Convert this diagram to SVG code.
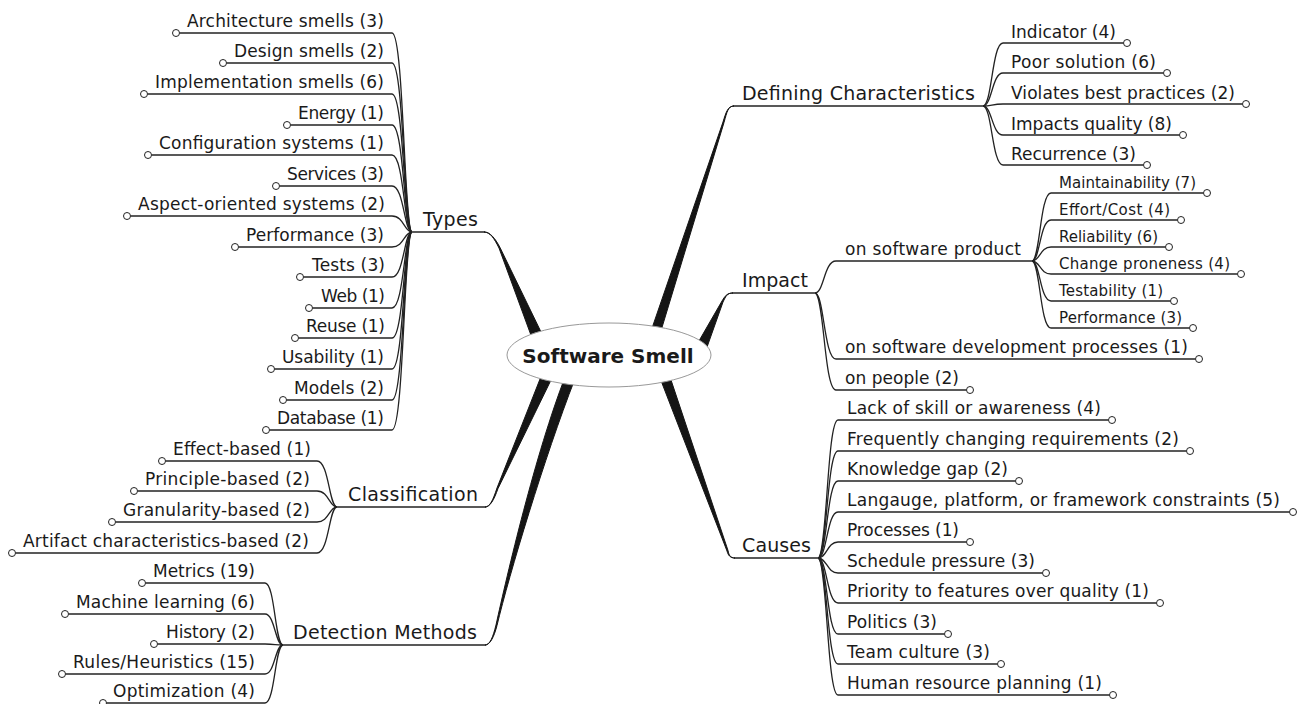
<svg xmlns="http://www.w3.org/2000/svg" width="1299" height="704" viewBox="0 0 1299 704">
<style>
.ln{fill:none;stroke:#222;stroke-width:1.3}
.ul{fill:none;stroke:#222;stroke-width:1.3}
.dot{fill:#fff;stroke:#222;stroke-width:1}
.br{fill:#151515;stroke:#151515;stroke-width:1;stroke-linejoin:round}
text{font-family:"DejaVu Sans","Liberation Sans",sans-serif;fill:#1a1a1a}
.t{font-size:17px}
.s{font-size:15px}
.m{font-size:19px}
.l{text-anchor:end}
.c{font-size:20px;font-weight:bold;text-anchor:middle}
</style>
<rect width="1299" height="704" fill="#fff"/>
<g id="connectors">
<!-- tapered main branches -->
<path class="br" d="M484,232 C490,232 494,238 499,248 L532,338 L542,334 L500,247.5 C495,238 490,232 484,232 Z"/>
<path class="br" d="M734,106 C728,106 726,112 723,122 L650,334 L660,334 L724,122.5 C727,112 728,106 734,106 Z"/>
<path class="br" d="M733,293 C727,293 725,296 722,301 L697.5,343.5 L706.5,348.5 L723,302 C726,296 727,293 733,293 Z"/>
<path class="br" d="M735,558 C730,558 728,555 727,551 L660,378 L669,374 L728,550.5 C729,555 730,558 735,558 Z"/>
<path class="br" d="M485,507 C490,507 493,500 497,488 L542,374 L552,378 L498,488.5 C494,500 490,507 485,507 Z"/>
<path class="br" d="M485,645 C490,645 493,637 496,625 C507,575 535.4,453.2 565.4,376.2 L574.6,379.8 C544.6,456.8 509,575 497,625.5 C494,637 490,645 485,645 Z"/>
<!-- Types children -->
<path class="ln" d="M412,232 C404,232 404,33 392,33"/>
<path class="ln" d="M412,232 C404,232 404,63 392,63"/>
<path class="ln" d="M412,232 C404,232 404,94 392,94"/>
<path class="ln" d="M412,232 C404,232 404,125 392,125"/>
<path class="ln" d="M412,232 C404,232 404,155 392,155"/>
<path class="ln" d="M412,232 C404,232 404,186 392,186"/>
<path class="ln" d="M412,232 C404,232 404,216 392,216"/>
<path class="ln" d="M412,232 C404,232 404,247 392,247"/>
<path class="ln" d="M412,232 C404,232 404,277 392,277"/>
<path class="ln" d="M412,232 C404,232 404,308 392,308"/>
<path class="ln" d="M412,232 C404,232 404,338 392,338"/>
<path class="ln" d="M412,232 C404,232 404,369 392,369"/>
<path class="ln" d="M412,232 C404,232 404,400 392,400"/>
<path class="ln" d="M412,232 C404,232 404,430 392,430"/>
<!-- Classification children -->
<path class="ln" d="M337,507 C329,507 329,461 317,461"/>
<path class="ln" d="M337,507 C329,507 329,491 317,491"/>
<path class="ln" d="M337,507 C329,507 329,522 317,522"/>
<path class="ln" d="M337,507 C329,507 329,553 317,553"/>
<!-- Detection children -->
<path class="ln" d="M283,645 C275,645 275,583 265,583"/>
<path class="ln" d="M283,645 C275,645 275,614 265,614"/>
<path class="ln" d="M283,645 C275,645 275,644 265,644"/>
<path class="ln" d="M283,645 C275,645 275,674 265,674"/>
<path class="ln" d="M283,645 C275,645 275,703 265,703"/>
<!-- Defining Characteristics children -->
<path class="ln" d="M983,106 C992,106 992,43 1003,43"/>
<path class="ln" d="M983,106 C992,106 992,73 1003,73"/>
<path class="ln" d="M983,106 C992,106 992,104 1003,104"/>
<path class="ln" d="M983,106 C992,106 992,135 1003,135"/>
<path class="ln" d="M983,106 C992,106 992,165 1003,165"/>
<!-- Impact children -->
<path class="ln" d="M815,293 C824,293 824,261 836,261"/>
<path class="ln" d="M815,293 C824,293 824,359 836,359"/>
<path class="ln" d="M815,293 C824,293 824,390 836,390"/>
<!-- on software product children -->
<path class="ln" d="M1032,261 C1040,261 1040,193 1051,193"/>
<path class="ln" d="M1032,261 C1040,261 1040,220 1051,220"/>
<path class="ln" d="M1032,261 C1040,261 1040,247 1051,247"/>
<path class="ln" d="M1032,261 C1040,261 1040,274 1051,274"/>
<path class="ln" d="M1032,261 C1040,261 1040,301 1051,301"/>
<path class="ln" d="M1032,261 C1040,261 1040,328 1051,328"/>
<!-- Causes children -->
<path class="ln" d="M818,558 C827,558 827,420 838,420"/>
<path class="ln" d="M818,558 C827,558 827,451 838,451"/>
<path class="ln" d="M818,558 C827,558 827,481 838,481"/>
<path class="ln" d="M818,558 C827,558 827,512 838,512"/>
<path class="ln" d="M818,558 C827,558 827,542 838,542"/>
<path class="ln" d="M818,558 C827,558 827,573 838,573"/>
<path class="ln" d="M818,558 C827,558 827,603 838,603"/>
<path class="ln" d="M818,558 C827,558 827,634 838,634"/>
<path class="ln" d="M818,558 C827,558 827,664 838,664"/>
<path class="ln" d="M818,558 C827,558 827,695 838,695"/>
</g>

<g id="root">
<ellipse cx="609" cy="355" rx="102" ry="32" fill="#fff" stroke="#999" stroke-width="1"/>
<text class="c" x="608" y="363">Software Smell</text>
</g>

<!-- main topics -->
<g id="types"><path class="ul" d="M412,232 H485"/><text class="m" x="423" y="226" textLength="55">Types</text></g>
<g id="classification"><path class="ul" d="M337,507 H486"/><text class="m" x="348" y="501" textLength="130">Classification</text></g>
<g id="detection"><path class="ul" d="M283,645 H486"/><text class="m" x="293" y="639" textLength="184">Detection Methods</text></g>
<g id="defining"><path class="ul" d="M733,106 H983"/><text class="m" x="742" y="100" textLength="233">Defining Characteristics</text></g>
<g id="impact"><path class="ul" d="M732,293 H815"/><text class="m" x="742" y="287" textLength="66">Impact</text></g>
<g id="causes"><path class="ul" d="M734,558 H818"/><text class="m" x="742" y="552" textLength="69">Causes</text></g>

<!-- Types children -->
<g id="t1"><path class="ul" d="M179.5,33 H392"/><circle class="dot" cx="176" cy="33" r="3.5"/><text class="t l" x="384" y="27" textLength="197">Architecture smells (3)</text></g>
<g id="t2"><path class="ul" d="M226.5,63 H392"/><circle class="dot" cx="223" cy="63" r="3.5"/><text class="t l" x="384" y="57" textLength="150">Design smells (2)</text></g>
<g id="t3"><path class="ul" d="M147.5,94 H392"/><circle class="dot" cx="144" cy="94" r="3.5"/><text class="t l" x="384" y="88" textLength="229">Implementation smells (6)</text></g>
<g id="t4"><path class="ul" d="M290.5,125 H392"/><circle class="dot" cx="287" cy="125" r="3.5"/><text class="t l" x="384" y="119" textLength="86">Energy (1)</text></g>
<g id="t5"><path class="ul" d="M151.5,155 H392"/><circle class="dot" cx="148" cy="155" r="3.5"/><text class="t l" x="384" y="149" textLength="225">Configuration systems (1)</text></g>
<g id="t6"><path class="ul" d="M279.5,186 H392"/><circle class="dot" cx="276" cy="186" r="3.5"/><text class="t l" x="384" y="180" textLength="97">Services (3)</text></g>
<g id="t7"><path class="ul" d="M130.5,216 H392"/><circle class="dot" cx="127" cy="216" r="3.5"/><text class="t l" x="385" y="210" textLength="247">Aspect-oriented systems (2)</text></g>
<g id="t8"><path class="ul" d="M238.5,247 H392"/><circle class="dot" cx="235" cy="247" r="3.5"/><text class="t l" x="384" y="241" textLength="138">Performance (3)</text></g>
<g id="t9"><path class="ul" d="M303.5,277 H392"/><circle class="dot" cx="300" cy="277" r="3.5"/><text class="t l" x="385" y="271" textLength="73">Tests (3)</text></g>
<g id="t10"><path class="ul" d="M312.5,308 H392"/><circle class="dot" cx="309" cy="308" r="3.5"/><text class="t l" x="385" y="302" textLength="64">Web (1)</text></g>
<g id="t11"><path class="ul" d="M298.5,338 H392"/><circle class="dot" cx="295" cy="338" r="3.5"/><text class="t l" x="385" y="332" textLength="79">Reuse (1)</text></g>
<g id="t12"><path class="ul" d="M274.5,369 H392"/><circle class="dot" cx="271" cy="369" r="3.5"/><text class="t l" x="384" y="363" textLength="102">Usability (1)</text></g>
<g id="t13"><path class="ul" d="M286.5,400 H392"/><circle class="dot" cx="283" cy="400" r="3.5"/><text class="t l" x="384" y="394" textLength="90">Models (2)</text></g>
<g id="t14"><path class="ul" d="M269.5,430 H392"/><circle class="dot" cx="266" cy="430" r="3.5"/><text class="t l" x="384" y="424" textLength="107">Database (1)</text></g>

<!-- Classification children -->
<g id="c1"><path class="ul" d="M165.5,461 H317"/><circle class="dot" cx="162" cy="461" r="3.5"/><text class="t l" x="311" y="455" textLength="138">Effect-based (1)</text></g>
<g id="c2"><path class="ul" d="M137.5,491 H317"/><circle class="dot" cx="134" cy="491" r="3.5"/><text class="t l" x="310" y="485" textLength="165">Principle-based (2)</text></g>
<g id="c3"><path class="ul" d="M115.5,522 H317"/><circle class="dot" cx="112" cy="522" r="3.5"/><text class="t l" x="310" y="516" textLength="187">Granularity-based (2)</text></g>
<g id="c4"><path class="ul" d="M15.5,553 H317"/><circle class="dot" cx="12" cy="553" r="3.5"/><text class="t l" x="309" y="547" textLength="286">Artifact characteristics-based (2)</text></g>

<!-- Detection children -->
<g id="d1"><path class="ul" d="M145.5,583 H265"/><circle class="dot" cx="142" cy="583" r="3.5"/><text class="t l" x="255" y="577" textLength="102">Metrics (19)</text></g>
<g id="d2"><path class="ul" d="M68.5,614 H265"/><circle class="dot" cx="65" cy="614" r="3.5"/><text class="t l" x="255" y="608" textLength="179">Machine learning (6)</text></g>
<g id="d3"><path class="ul" d="M157.5,644 H265"/><circle class="dot" cx="154" cy="644" r="3.5"/><text class="t l" x="255" y="638" textLength="89">History (2)</text></g>
<g id="d4"><path class="ul" d="M65.5,674 H265"/><circle class="dot" cx="62" cy="674" r="3.5"/><text class="t l" x="255" y="668" textLength="182">Rules/Heuristics (15)</text></g>
<g id="d5"><path class="ul" d="M106.5,703 H265"/><circle class="dot" cx="103" cy="703" r="3.5"/><text class="t l" x="255" y="697" textLength="142">Optimization (4)</text></g>

<!-- Defining children -->
<g id="dc1"><path class="ul" d="M1003,43 H1123.5"/><circle class="dot" cx="1127" cy="43" r="3.5"/><text class="t" x="1011" y="38" textLength="105">Indicator (4)</text></g>
<g id="dc2"><path class="ul" d="M1003,73 H1163.5"/><circle class="dot" cx="1167" cy="73" r="3.5"/><text class="t" x="1011" y="68" textLength="145">Poor solution (6)</text></g>
<g id="dc3"><path class="ul" d="M1003,104 H1242.5"/><circle class="dot" cx="1246" cy="104" r="3.5"/><text class="t" x="1011" y="99" textLength="224">Violates best practices (2)</text></g>
<g id="dc4"><path class="ul" d="M1003,135 H1179.5"/><circle class="dot" cx="1183" cy="135" r="3.5"/><text class="t" x="1011" y="130" textLength="161">Impacts quality (8)</text></g>
<g id="dc5"><path class="ul" d="M1003,165 H1143.5"/><circle class="dot" cx="1147" cy="165" r="3.5"/><text class="t" x="1011" y="160" textLength="125">Recurrence (3)</text></g>

<!-- Impact children -->
<g id="i1"><path class="ul" d="M836,261 H1032"/><text class="t" x="845" y="255" textLength="176">on software product</text></g>
<g id="i2"><path class="ul" d="M836,359 H1195.5"/><circle class="dot" cx="1199" cy="359" r="3.5"/><text class="t" x="845" y="353" textLength="343">on software development processes (1)</text></g>
<g id="i3"><path class="ul" d="M836,390 H966.5"/><circle class="dot" cx="970" cy="390" r="3.5"/><text class="t" x="845" y="384" textLength="114">on people (2)</text></g>

<!-- on software product children -->
<g id="p1"><path class="ul" d="M1051,193 H1203.5"/><circle class="dot" cx="1207" cy="193" r="3.5"/><text class="s" x="1059" y="188" textLength="137">Maintainability (7)</text></g>
<g id="p2"><path class="ul" d="M1051,220 H1177.5"/><circle class="dot" cx="1181" cy="220" r="3.5"/><text class="s" x="1059" y="215" textLength="111">Effort/Cost (4)</text></g>
<g id="p3"><path class="ul" d="M1051,247 H1165.5"/><circle class="dot" cx="1169" cy="247" r="3.5"/><text class="s" x="1059" y="242" textLength="99">Reliability (6)</text></g>
<g id="p4"><path class="ul" d="M1051,274 H1237.5"/><circle class="dot" cx="1241" cy="274" r="3.5"/><text class="s" x="1059" y="269" textLength="171">Change proneness (4)</text></g>
<g id="p5"><path class="ul" d="M1051,301 H1170.5"/><circle class="dot" cx="1174" cy="301" r="3.5"/><text class="s" x="1059" y="296" textLength="104">Testability (1)</text></g>
<g id="p6"><path class="ul" d="M1051,328 H1189.5"/><circle class="dot" cx="1193" cy="328" r="3.5"/><text class="s" x="1059" y="323" textLength="123">Performance (3)</text></g>

<!-- Causes children -->
<g id="k1"><path class="ul" d="M838,420 H1108.5"/><circle class="dot" cx="1112" cy="420" r="3.5"/><text class="t" x="847" y="414" textLength="254">Lack of skill or awareness (4)</text></g>
<g id="k2"><path class="ul" d="M838,451 H1186.5"/><circle class="dot" cx="1190" cy="451" r="3.5"/><text class="t" x="847" y="445" textLength="332">Frequently changing requirements (2)</text></g>
<g id="k3"><path class="ul" d="M838,481 H1015.5"/><circle class="dot" cx="1019" cy="481" r="3.5"/><text class="t" x="847" y="475" textLength="161">Knowledge gap (2)</text></g>
<g id="k4"><path class="ul" d="M838,512 H1289.5"/><circle class="dot" cx="1293" cy="512" r="3.5"/><text class="t" x="847" y="506" textLength="433">Langauge, platform, or framework constraints (5)</text></g>
<g id="k5"><path class="ul" d="M838,542 H966.5"/><circle class="dot" cx="970" cy="542" r="3.5"/><text class="t" x="847" y="536" textLength="112">Processes (1)</text></g>
<g id="k6"><path class="ul" d="M838,573 H1042.5"/><circle class="dot" cx="1046" cy="573" r="3.5"/><text class="t" x="847" y="567" textLength="188">Schedule pressure (3)</text></g>
<g id="k7"><path class="ul" d="M838,603 H1156.5"/><circle class="dot" cx="1160" cy="603" r="3.5"/><text class="t" x="847" y="597" textLength="302">Priority to features over quality (1)</text></g>
<g id="k8"><path class="ul" d="M838,634 H944.5"/><circle class="dot" cx="948" cy="634" r="3.5"/><text class="t" x="847" y="628" textLength="90">Politics (3)</text></g>
<g id="k9"><path class="ul" d="M838,664 H997.5"/><circle class="dot" cx="1001" cy="664" r="3.5"/><text class="t" x="847" y="658" textLength="143">Team culture (3)</text></g>
<g id="k10"><path class="ul" d="M838,695 H1109.5"/><circle class="dot" cx="1113" cy="695" r="3.5"/><text class="t" x="847" y="689" textLength="255">Human resource planning (1)</text></g>
</svg>
